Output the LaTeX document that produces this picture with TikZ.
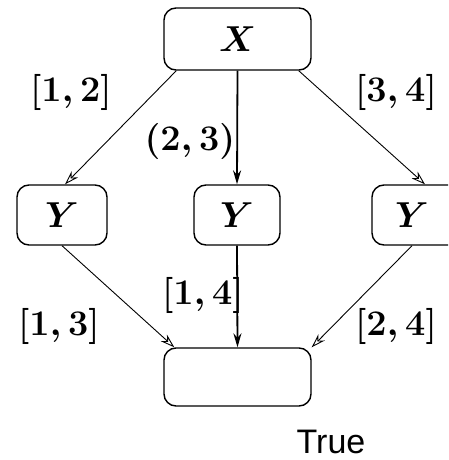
\documentclass[tikz,border=0pt]{standalone}
\usepackage{fontspec}
\newfontfamily\truefont{Liberation Sans}
\usetikzlibrary{arrows.meta,calc}
\begin{document}
\begin{tikzpicture}[x=1pt,y=-1pt,
  box/.style={draw,line width=1.4pt,rounded corners=12pt,inner sep=0pt},
  mtxt/.style={inner sep=0pt,scale=1.45,font=\fontsize{24.88}{30}\selectfont\boldmath},
  arr/.style={line width=0.9pt,-{Stealth[length=14pt,width=9pt,open]}},
  marr/.style={line width=1.8pt,-{Stealth[length=14pt,width=8pt]}}]
\useasboundingbox (0,0) rectangle (448,460);
\clip (0,0) rectangle (448,460);
\node[box,minimum width=147pt,minimum height=62pt] (X) at (237.5,39) {};
\node[box,minimum width=90pt,minimum height=60pt] (Y1) at (62,215) {};
\node[box,minimum width=86pt,minimum height=60pt] (Y2) at (237,215) {};
\node[box,minimum width=90pt,minimum height=60pt] (Y3) at (417,215) {};
\node[box,minimum width=147pt,minimum height=58pt] (B) at (237.5,377) {};
\node[mtxt] (tX) at (X) {$X$};
\node[mtxt] (tY1) at (Y1) {$Y$};
\node[mtxt] (tY2) at (Y2) {$Y$};
\node[mtxt] (tY3) at ($(Y3)+(-5,0)$) {$Y$};
\node[inner sep=0pt,anchor=base,font=\truefont\fontsize{34}{38}\selectfont] (T) at (331,453) {True};
\draw[arr] ($(X.south west)+(13,0)$) -- ($(Y1.north)+(3,0)$);
\draw[marr] (X.south) -- (Y2.north);
\draw[arr] ($(X.south east)+(-13,0)$) -- ($(Y3.north)+(8,0)$);
\draw[arr] (Y1.south) -- ($(B.north west)+(11,0)$);
\draw[marr] (Y2.south) -- (B.north);
\draw[arr] ($(Y3.south)+(-5,0)$) -- (B.north east);
\node[mtxt] (l12) at (71,92) {$[1,2]$};
\node[mtxt] (l23) at (190,141) {$(2,3)$};
\node[mtxt] (l34) at (396,92) {$[3,4]$};
\node[mtxt] (l13) at (59,326) {$[1,3]$};
\node[mtxt] (l14) at (203,295) {$[1,4]$};
\node[mtxt] (l24) at (396,326) {$[2,4]$};
\end{tikzpicture}
\end{document}
